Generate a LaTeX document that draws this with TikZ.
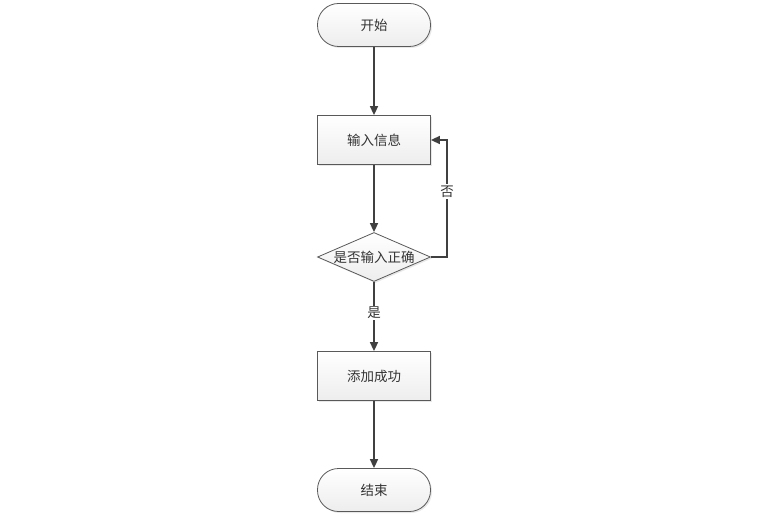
\documentclass[tikz,border=0pt]{standalone}
\usepackage{fontspec}
\setmainfont{Noto Sans CJK SC}
\usetikzlibrary{positioning, calc, shapes.geometric, shadows, arrows.meta}

\definecolor{linegray}{HTML}{404040}
\definecolor{boxgray}{HTML}{595959}

\tikzset{
    txt/.style={font=\fontsize{13.5}{15}\selectfont, text=black!80},
    box/.style={txt, draw=boxgray, line width=0.8pt, top color=white, bottom color=gray!14,
        drop shadow={shadow xshift=1.5pt, shadow yshift=-1.5pt, fill=gray!35, opacity=0.5},
        minimum width=113pt, minimum height=49pt, inner sep=0pt},
    startstop/.style={box, rounded corners=21pt, minimum height=43pt},
    decision/.style={box, diamond, aspect=2.3, minimum width=113pt, minimum height=49pt},
    flow/.style={draw=linegray, line width=1.6pt, -{Triangle[length=9pt, width=8pt]}},
    lbl/.style={txt, fill=white, inner sep=1.5pt}
}

\begin{document}
\begin{tikzpicture}[x=1pt, y=-1pt]
        % canvas
        \useasboundingbox (0,0) rectangle (762,526);

        % the shapes
        \node[startstop] (start)  at (374,25)  {开始};
        \node[box]       (input)  at (374,140) {输入信息};
        \node[decision]  (check)  at (374,257) {};
        \node[txt]       (checktxt) at (check) {是否输入正确};
        \node[box]       (done)   at (374,376) {添加成功};
        \node[startstop] (stop)   at (374,490) {结束};

        \coordinate (back) at (447,257);

        % connectors
        \draw[flow] (start) -- (input);
        \draw[flow] (input) -- (check);
        \draw[flow] (check.east) -- (back) |- node[lbl, pos=0.28] (no) {否} (input.east);
        \draw[flow] (check) -- node[lbl, pos=0.45] (yes) {是} (done);
        \draw[flow] (done) -- (stop);
    \end{tikzpicture}
\end{document}
